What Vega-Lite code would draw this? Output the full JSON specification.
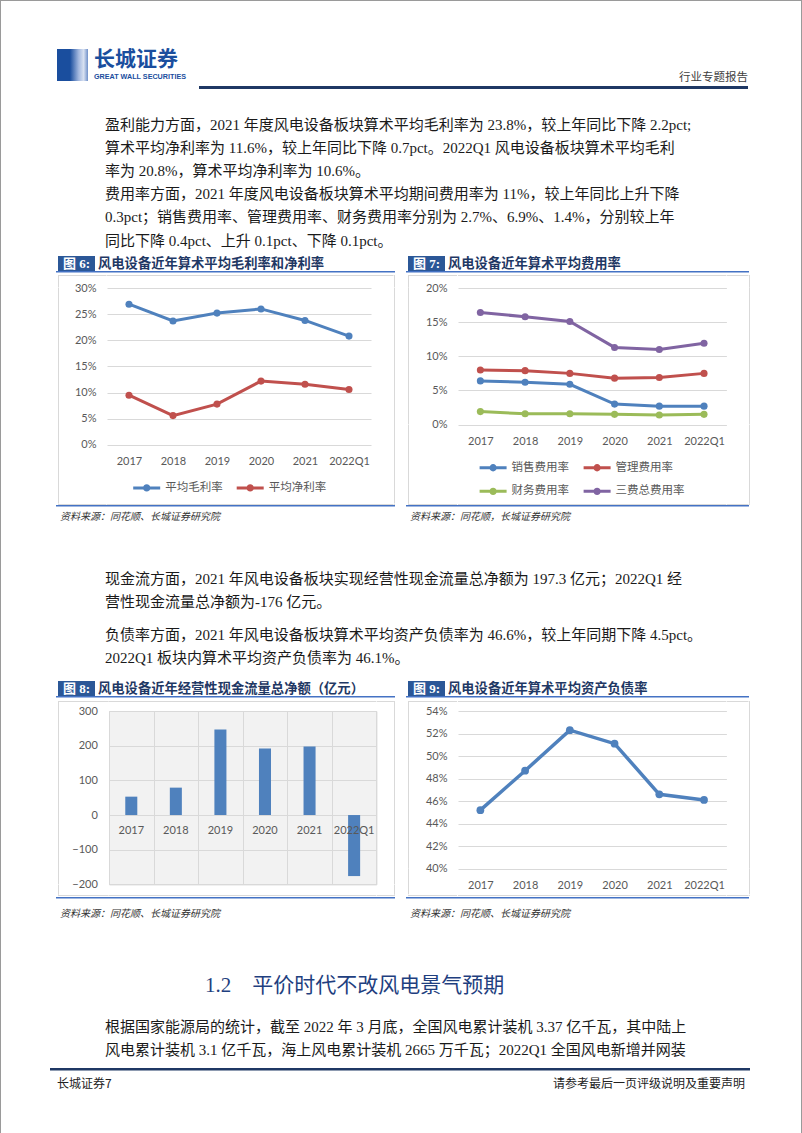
{
"$schema": "https://vega.github.io/schema/vega-lite/v6.json",
"padding": 0,
"background": "#ffffff",
"spacing": 0,
"bounds": "flush",
"config": {
  "view": {"stroke": null},
  "concat": {"spacing": 0},
  "axis": {"labelFont": "Lato", "labelFontSize": 11, "labelColor": "#595959", "domain": false, "ticks": false, "gridColor": "#D9D9D9", "gridWidth": 1, "labelPadding": 11, "labelOverlap": false},
  "legend": {"padding": 0, "labelFont": "Noto Sans CJK SC", "labelFontSize": 11.5, "labelColor": "#595959"}
},
"hconcat": [
  {"width": 1, "height": 1133, "data": {"values": []}, "mark": "point", "encoding": {}, "view": {"fill": "#9A9A9A"}},
  {"spacing": 0, "bounds": "flush", "vconcat": [
    {"width": 800, "height": 1, "data": {"values": []}, "mark": "point", "encoding": {}, "view": {"fill": "#9A9A9A"}},
    {"spacing": 0, "bounds": "flush", "hconcat": [
      {"width": 56, "height": 94, "data": {"values": []}, "mark": "point", "encoding": {}},
      {"spacing": 0, "bounds": "flush", "vconcat": [
        {"width": 31, "height": 48, "data": {"values": []}, "mark": "point", "encoding": {}},
        {"width": 31, "height": 32, "data": {"values": [{}]}, "mark": {"type": "rect", "fill": {"gradient": "linear", "x1": 0, "y1": 0, "x2": 1, "y2": 0, "stops": [{"offset": 0, "color": "#1A4E9E"}, {"offset": 0.42, "color": "#1A4E9E"}, {"offset": 0.7, "color": "#A3B8DF"}, {"offset": 0.86, "color": "#D8E1F1"}, {"offset": 1, "color": "#6F90C9"}]}}, "encoding": {}},
        {"width": 31, "height": 14, "data": {"values": []}, "mark": "point", "encoding": {}}
      ]},
      {"width": 37, "height": 94, "data": {"values": []}, "mark": "point", "encoding": {}},
      {"spacing": 0, "bounds": "flush", "vconcat": [
        {"width": 96, "height": 47, "data": {"values": []}, "mark": "point", "encoding": {}},
        {"width": 96, "height": 24, "data": {"values": [{"t": "长城证券"}]}, "mark": {"type": "text", "align": "left", "baseline": "middle", "font": "Noto Sans CJK SC", "fontWeight": "bold", "fontSize": 21, "color": "#1A4E9E"}, "encoding": {"text": {"field": "t"}, "x": {"datum": 0, "type": "quantitative", "scale": {"domain": [0, 1]}, "axis": null}}},
        {"width": 96, "height": 0.5, "data": {"values": []}, "mark": "point", "encoding": {}},
        {"width": 96, "height": 8, "data": {"values": [{"t": "GREAT WALL SECURITIES"}]}, "mark": {"type": "text", "align": "left", "baseline": "middle", "font": "Liberation Sans", "fontWeight": "bold", "fontSize": 7.2, "color": "#1A4E9E"}, "encoding": {"text": {"field": "t"}, "x": {"datum": 0, "type": "quantitative", "scale": {"domain": [0, 1]}, "axis": null}}},
        {"width": 96, "height": 14.5, "data": {"values": []}, "mark": "point", "encoding": {}}
      ]},
      {"width": 105, "height": 94, "data": {"values": []}, "mark": "point", "encoding": {}},
      {"spacing": 0, "bounds": "flush", "vconcat": [
        {"width": 549, "height": 70, "data": {"values": []}, "mark": "point", "encoding": {}},
        {"width": 549, "height": 14, "data": {"values": [{"t": "行业专题报告"}]}, "mark": {"type": "text", "align": "right", "baseline": "middle", "font": "Noto Sans CJK SC", "fontSize": 11.5, "color": "#404040"}, "encoding": {"text": {"field": "t"}, "x": {"datum": 1, "type": "quantitative", "scale": {"domain": [0, 1]}, "axis": null}}},
        {"width": 549, "height": 1, "data": {"values": []}, "mark": "point", "encoding": {}},
        {"width": 549, "height": 3, "data": {"values": []}, "mark": "point", "encoding": {}, "view": {"fill": "#1F3864"}},
        {"width": 549, "height": 6, "data": {"values": []}, "mark": "point", "encoding": {}}
      ]},
      {"width": 602, "height": 94, "data": {"values": []}, "mark": "point", "encoding": {}}
    ]},
    {"width": 800, "height": 110.4, "data": {"values": []}, "mark": "point", "encoding": {}},
    {"spacing": 0, "bounds": "flush", "hconcat": [
      {"width": 104, "height": 139.2, "data": {"values": []}, "mark": "point", "encoding": {}},
      {"width": 646, "height": 139.2, "data": {"values": [
        {"line": 1, "t": "盈利能力方面，2021 年度风电设备板块算术平均毛利率为 23.8%，较上年同比下降 2.2pct;"},
        {"line": 2, "t": "算术平均净利率为 11.6%，较上年同比下降 0.7pct。2022Q1 风电设备板块算术平均毛利"},
        {"line": 3, "t": "率为 20.8%，算术平均净利率为 10.6%。"},
        {"line": 4, "t": "费用率方面，2021 年度风电设备板块算术平均期间费用率为 11%，较上年同比上升下降"},
        {"line": 5, "t": "0.3pct；销售费用率、管理费用率、财务费用率分别为 2.7%、6.9%、1.4%，分别较上年"},
        {"line": 6, "t": "同比下降 0.4pct、上升 0.1pct、下降 0.1pct。"}
      ]}, "mark": {"type": "text", "align": "left", "baseline": "middle", "dy": 1, "font": "Liberation Serif, Noto Sans CJK SC", "fontSize": 15, "color": "#1A1A1A"}, "encoding": {"text": {"field": "t"}, "x": {"datum": 0, "type": "quantitative", "scale": {"domain": [0, 1]}, "axis": null}, "y": {"field": "line", "type": "ordinal", "axis": null, "scale": {"type": "point", "padding": 0.5}}}}
    ]},
    {"width": 800, "height": 139.2, "data": {"values": []}, "mark": "point", "encoding": {}},
    {"spacing": 0, "bounds": "flush", "resolve": {"scale": {"color": "independent"}, "legend": {"color": "independent"}}, "hconcat": [
      {"width": 55, "height": 277.4, "data": {"values": []}, "mark": "point", "encoding": {}},
      {"spacing": 0, "bounds": "flush", "resolve": {"scale": {"color": "independent"}, "legend": {"color": "independent"}}, "vconcat": [
        {"width": 339, "height": 3.4, "data": {"values": []}, "mark": "point", "encoding": {}},
        {"spacing": 0, "bounds": "flush", "hconcat": [
          {"width": 1.5, "height": 15, "data": {"values": []}, "mark": "point", "encoding": {}},
          {"width": 37, "height": 15, "view": {"fill": "#2B5797"}, "data": {"values": [{"t": "图 6:"}]}, "mark": {"type": "text", "align": "center", "baseline": "middle", "font": "Liberation Serif, Noto Sans CJK SC", "fontWeight": "bold", "fontSize": 13, "color": "#FFFFFF"}, "encoding": {"text": {"field": "t"}}},
          {"width": 2.5, "height": 15, "data": {"values": []}, "mark": "point", "encoding": {}},
          {"width": 298, "height": 15, "data": {"values": [{"t": "风电设备近年算术平均毛利率和净利率"}]}, "mark": {"type": "text", "align": "left", "baseline": "middle", "font": "Noto Sans CJK SC", "fontWeight": "bold", "fontSize": 13.3, "color": "#1F3864"}, "encoding": {"text": {"field": "t"}, "x": {"datum": 0, "type": "quantitative", "scale": {"domain": [0, 1]}, "axis": null}}}
        ]},
        {"width": 339, "height": 15, "data": {"values": []}, "mark": "point", "encoding": {}},
        {"width": 339, "height": 1.5, "data": {"values": []}, "mark": "point", "encoding": {}, "view": {"fill": "#4472C4"}},
        {"width": 339, "height": 1.5, "data": {"values": []}, "mark": "point", "encoding": {}},
        {"columns": 6, "spacing": 0, "bounds": "flush", "resolve": {"scale": {"color": "independent"}, "legend": {"color": "independent"}}, "concat": [
          {"width": 1.5, "height": 1, "data": {"values": []}, "mark": "point", "encoding": {}},
          {"width": 1, "height": 1, "data": {"values": []}, "mark": "point", "encoding": {}, "view": {"fill": "#D9D9D9"}},
          {"width": 47.5, "height": 1, "data": {"values": []}, "mark": "point", "encoding": {}, "view": {"fill": "#D9D9D9"}},
          {"width": 264, "height": 1, "data": {"values": []}, "mark": "point", "encoding": {}, "view": {"fill": "#D9D9D9"}},
          {"width": 22.5, "height": 1, "data": {"values": []}, "mark": "point", "encoding": {}, "view": {"fill": "#D9D9D9"}},
          {"width": 1, "height": 1, "data": {"values": []}, "mark": "point", "encoding": {}, "view": {"fill": "#D9D9D9"}},
          {"width": 1.5, "height": 11.5, "data": {"values": []}, "mark": "point", "encoding": {}},
          {"width": 1, "height": 11.5, "data": {"values": []}, "mark": "point", "encoding": {}, "view": {"fill": "#D9D9D9"}},
          {"width": 47.5, "height": 11.5, "data": {"values": []}, "mark": "point", "encoding": {}},
          {"width": 264, "height": 11.5, "data": {"values": []}, "mark": "point", "encoding": {}},
          {"width": 22.5, "height": 11.5, "data": {"values": []}, "mark": "point", "encoding": {}},
          {"width": 1, "height": 11.5, "data": {"values": []}, "mark": "point", "encoding": {}, "view": {"fill": "#D9D9D9"}},
          {"width": 1.5, "height": 156.9, "data": {"values": []}, "mark": "point", "encoding": {}},
          {"width": 1, "height": 156.9, "data": {"values": []}, "mark": "point", "encoding": {}, "view": {"fill": "#D9D9D9"}},
          {"width": 47.5, "height": 156.9, "data": {"values": []}, "mark": "point", "encoding": {}},
          {"width": 264, "height": 156.9,
           "data": {"values": [
             {"year": "2017", "series": "平均毛利率", "value": 26.9},
             {"year": "2018", "series": "平均毛利率", "value": 23.7},
             {"year": "2019", "series": "平均毛利率", "value": 25.2},
             {"year": "2020", "series": "平均毛利率", "value": 26.0},
             {"year": "2021", "series": "平均毛利率", "value": 23.8},
             {"year": "2022Q1", "series": "平均毛利率", "value": 20.8},
             {"year": "2017", "series": "平均净利率", "value": 9.5},
             {"year": "2018", "series": "平均净利率", "value": 5.6},
             {"year": "2019", "series": "平均净利率", "value": 7.8},
             {"year": "2020", "series": "平均净利率", "value": 12.2},
             {"year": "2021", "series": "平均净利率", "value": 11.6},
             {"year": "2022Q1", "series": "平均净利率", "value": 10.6}
           ]},
           "mark": {"type": "line", "strokeWidth": 3, "point": {"filled": true, "size": 50}},
           "encoding": {
             "x": {"field": "year", "type": "ordinal", "sort": null, "axis": {"title": null, "labelAngle": 0, "grid": false}},
             "y": {"field": "value", "type": "quantitative", "scale": {"domain": [0, 30], "nice": false}, "axis": {"title": null, "values": [0, 5, 10, 15, 20, 25, 30], "labelExpr": "datum.value + '%'", "grid": true}},
             "color": {"field": "series", "type": "nominal", "scale": {"domain": ["平均毛利率", "平均净利率"], "range": ["#4F81BD", "#C0504D"]}, "legend": {"title": null, "orient": "none", "legendX": 24.7, "legendY": 184.5, "direction": "horizontal", "columnPadding": 7.5, "symbolType": "M-1,0L1,0M0.16,0A0.16,0.16,0,1,1,-0.16,0A0.16,0.16,0,1,1,0.16,0", "symbolSize": 729, "symbolStrokeWidth": 3, "labelOffset": 3.5}}
           }},
          {"width": 22.5, "height": 156.9, "data": {"values": []}, "mark": "point", "encoding": {}},
          {"width": 1, "height": 156.9, "data": {"values": []}, "mark": "point", "encoding": {}, "view": {"fill": "#D9D9D9"}},
          {"width": 1.5, "height": 58.6, "data": {"values": []}, "mark": "point", "encoding": {}},
          {"width": 1, "height": 58.6, "data": {"values": []}, "mark": "point", "encoding": {}, "view": {"fill": "#D9D9D9"}},
          {"width": 47.5, "height": 58.6, "data": {"values": []}, "mark": "point", "encoding": {}},
          {"width": 264, "height": 58.6, "data": {"values": []}, "mark": "point", "encoding": {}},
          {"width": 22.5, "height": 58.6, "data": {"values": []}, "mark": "point", "encoding": {}},
          {"width": 1, "height": 58.6, "data": {"values": []}, "mark": "point", "encoding": {}, "view": {"fill": "#D9D9D9"}},
          {"width": 1.5, "height": 1, "data": {"values": []}, "mark": "point", "encoding": {}},
          {"width": 1, "height": 1, "data": {"values": []}, "mark": "point", "encoding": {}, "view": {"fill": "#D9D9D9"}},
          {"width": 47.5, "height": 1, "data": {"values": []}, "mark": "point", "encoding": {}, "view": {"fill": "#D9D9D9"}},
          {"width": 264, "height": 1, "data": {"values": []}, "mark": "point", "encoding": {}, "view": {"fill": "#D9D9D9"}},
          {"width": 22.5, "height": 1, "data": {"values": []}, "mark": "point", "encoding": {}, "view": {"fill": "#D9D9D9"}},
          {"width": 1, "height": 1, "data": {"values": []}, "mark": "point", "encoding": {}, "view": {"fill": "#D9D9D9"}}
        ]},
        {"width": 339, "height": 230, "data": {"values": []}, "mark": "point", "encoding": {}},
        {"width": 339, "height": 1.5, "data": {"values": []}, "mark": "point", "encoding": {}, "view": {"fill": "#4472C4"}},
        {"width": 339, "height": 2, "data": {"values": []}, "mark": "point", "encoding": {}},
        {"width": 339, "height": 15, "data": {"values": [{"t": "资料来源：同花顺、长城证券研究院"}]}, "mark": {"type": "text", "align": "left", "baseline": "middle", "dx": 4, "font": "Noto Sans CJK SC", "fontStyle": "italic", "fontSize": 10, "color": "#333333"}, "encoding": {"text": {"field": "t"}, "x": {"datum": 0, "type": "quantitative", "scale": {"domain": [0, 1]}, "axis": null}}},
        {"width": 339, "height": 7.5, "data": {"values": []}, "mark": "point", "encoding": {}}
      ]},
      {"width": 350, "height": 277.4, "data": {"values": []}, "mark": "point", "encoding": {}},
      {"spacing": 0, "bounds": "flush", "resolve": {"scale": {"color": "independent"}, "legend": {"color": "independent"}}, "vconcat": [
        {"width": 343, "height": 3.4, "data": {"values": []}, "mark": "point", "encoding": {}},
        {"spacing": 0, "bounds": "flush", "hconcat": [
          {"width": 1.5, "height": 15, "data": {"values": []}, "mark": "point", "encoding": {}},
          {"width": 37, "height": 15, "view": {"fill": "#2B5797"}, "data": {"values": [{"t": "图 7:"}]}, "mark": {"type": "text", "align": "center", "baseline": "middle", "font": "Liberation Serif, Noto Sans CJK SC", "fontWeight": "bold", "fontSize": 13, "color": "#FFFFFF"}, "encoding": {"text": {"field": "t"}}},
          {"width": 2.5, "height": 15, "data": {"values": []}, "mark": "point", "encoding": {}},
          {"width": 302, "height": 15, "data": {"values": [{"t": "风电设备近年算术平均费用率"}]}, "mark": {"type": "text", "align": "left", "baseline": "middle", "font": "Noto Sans CJK SC", "fontWeight": "bold", "fontSize": 13.3, "color": "#1F3864"}, "encoding": {"text": {"field": "t"}, "x": {"datum": 0, "type": "quantitative", "scale": {"domain": [0, 1]}, "axis": null}}}
        ]},
        {"width": 343, "height": 15, "data": {"values": []}, "mark": "point", "encoding": {}},
        {"width": 343, "height": 1.5, "data": {"values": []}, "mark": "point", "encoding": {}, "view": {"fill": "#4472C4"}},
        {"width": 343, "height": 1.5, "data": {"values": []}, "mark": "point", "encoding": {}},
        {"columns": 6, "spacing": 0, "bounds": "flush", "resolve": {"scale": {"color": "independent"}, "legend": {"color": "independent"}}, "concat": [
          {"width": 1.5, "height": 1, "data": {"values": []}, "mark": "point", "encoding": {}},
          {"width": 1, "height": 1, "data": {"values": []}, "mark": "point", "encoding": {}, "view": {"fill": "#D9D9D9"}},
          {"width": 48.1, "height": 1, "data": {"values": []}, "mark": "point", "encoding": {}, "view": {"fill": "#D9D9D9"}},
          {"width": 268.4, "height": 1, "data": {"values": []}, "mark": "point", "encoding": {}, "view": {"fill": "#D9D9D9"}},
          {"width": 21.5, "height": 1, "data": {"values": []}, "mark": "point", "encoding": {}, "view": {"fill": "#D9D9D9"}},
          {"width": 1, "height": 1, "data": {"values": []}, "mark": "point", "encoding": {}, "view": {"fill": "#D9D9D9"}},
          {"width": 1.5, "height": 11.7, "data": {"values": []}, "mark": "point", "encoding": {}},
          {"width": 1, "height": 11.7, "data": {"values": []}, "mark": "point", "encoding": {}, "view": {"fill": "#D9D9D9"}},
          {"width": 48.1, "height": 11.7, "data": {"values": []}, "mark": "point", "encoding": {}},
          {"width": 268.4, "height": 11.7, "data": {"values": []}, "mark": "point", "encoding": {}},
          {"width": 21.5, "height": 11.7, "data": {"values": []}, "mark": "point", "encoding": {}},
          {"width": 1, "height": 11.7, "data": {"values": []}, "mark": "point", "encoding": {}, "view": {"fill": "#D9D9D9"}},
          {"width": 1.5, "height": 136.6, "data": {"values": []}, "mark": "point", "encoding": {}},
          {"width": 1, "height": 136.6, "data": {"values": []}, "mark": "point", "encoding": {}, "view": {"fill": "#D9D9D9"}},
          {"width": 48.1, "height": 136.6, "data": {"values": []}, "mark": "point", "encoding": {}},
          {"width": 268.4, "height": 136.6,
           "data": {"values": [
             {"year": "2017", "series": "销售费用率", "value": 6.4},
             {"year": "2018", "series": "销售费用率", "value": 6.2},
             {"year": "2019", "series": "销售费用率", "value": 5.9},
             {"year": "2020", "series": "销售费用率", "value": 3.0},
             {"year": "2021", "series": "销售费用率", "value": 2.7},
             {"year": "2022Q1", "series": "销售费用率", "value": 2.7},
             {"year": "2017", "series": "管理费用率", "value": 8.0},
             {"year": "2018", "series": "管理费用率", "value": 7.9},
             {"year": "2019", "series": "管理费用率", "value": 7.5},
             {"year": "2020", "series": "管理费用率", "value": 6.8},
             {"year": "2021", "series": "管理费用率", "value": 6.9},
             {"year": "2022Q1", "series": "管理费用率", "value": 7.5},
             {"year": "2017", "series": "财务费用率", "value": 1.9},
             {"year": "2018", "series": "财务费用率", "value": 1.6},
             {"year": "2019", "series": "财务费用率", "value": 1.6},
             {"year": "2020", "series": "财务费用率", "value": 1.5},
             {"year": "2021", "series": "财务费用率", "value": 1.4},
             {"year": "2022Q1", "series": "财务费用率", "value": 1.5},
             {"year": "2017", "series": "三费总费用率", "value": 16.4},
             {"year": "2018", "series": "三费总费用率", "value": 15.8},
             {"year": "2019", "series": "三费总费用率", "value": 15.1},
             {"year": "2020", "series": "三费总费用率", "value": 11.3},
             {"year": "2021", "series": "三费总费用率", "value": 11.0},
             {"year": "2022Q1", "series": "三费总费用率", "value": 11.9}
           ]},
           "mark": {"type": "line", "strokeWidth": 3, "point": {"filled": true, "size": 50}},
           "encoding": {
             "x": {"field": "year", "type": "ordinal", "sort": null, "axis": {"title": null, "labelAngle": 0, "grid": false}},
             "y": {"field": "value", "type": "quantitative", "scale": {"domain": [0, 20], "nice": false}, "axis": {"title": null, "values": [0, 5, 10, 15, 20], "labelExpr": "datum.value + '%'", "grid": true}},
             "color": {"field": "series", "type": "nominal", "scale": {"domain": ["销售费用率", "管理费用率", "财务费用率", "三费总费用率"], "range": ["#4F81BD", "#C0504D", "#9BBB59", "#8064A2"]}, "legend": {"title": null, "orient": "none", "legendX": 20.1, "legendY": 164.3, "direction": "horizontal", "columns": 2, "columnPadding": 8, "rowPadding": -7.7, "symbolType": "M-1,0L1,0M0.16,0A0.16,0.16,0,1,1,-0.16,0A0.16,0.16,0,1,1,0.16,0", "symbolSize": 729, "symbolStrokeWidth": 3, "labelOffset": 3.5}}
           }},
          {"width": 21.5, "height": 136.6, "data": {"values": []}, "mark": "point", "encoding": {}},
          {"width": 1, "height": 136.6, "data": {"values": []}, "mark": "point", "encoding": {}, "view": {"fill": "#D9D9D9"}},
          {"width": 1.5, "height": 78.7, "data": {"values": []}, "mark": "point", "encoding": {}},
          {"width": 1, "height": 78.7, "data": {"values": []}, "mark": "point", "encoding": {}, "view": {"fill": "#D9D9D9"}},
          {"width": 48.1, "height": 78.7, "data": {"values": []}, "mark": "point", "encoding": {}},
          {"width": 268.4, "height": 78.7, "data": {"values": []}, "mark": "point", "encoding": {}},
          {"width": 21.5, "height": 78.7, "data": {"values": []}, "mark": "point", "encoding": {}},
          {"width": 1, "height": 78.7, "data": {"values": []}, "mark": "point", "encoding": {}, "view": {"fill": "#D9D9D9"}},
          {"width": 1.5, "height": 1, "data": {"values": []}, "mark": "point", "encoding": {}},
          {"width": 1, "height": 1, "data": {"values": []}, "mark": "point", "encoding": {}, "view": {"fill": "#D9D9D9"}},
          {"width": 48.1, "height": 1, "data": {"values": []}, "mark": "point", "encoding": {}, "view": {"fill": "#D9D9D9"}},
          {"width": 268.4, "height": 1, "data": {"values": []}, "mark": "point", "encoding": {}, "view": {"fill": "#D9D9D9"}},
          {"width": 21.5, "height": 1, "data": {"values": []}, "mark": "point", "encoding": {}, "view": {"fill": "#D9D9D9"}},
          {"width": 1, "height": 1, "data": {"values": []}, "mark": "point", "encoding": {}, "view": {"fill": "#D9D9D9"}}
        ]},
        {"width": 343, "height": 230, "data": {"values": []}, "mark": "point", "encoding": {}},
        {"width": 343, "height": 1.5, "data": {"values": []}, "mark": "point", "encoding": {}, "view": {"fill": "#4472C4"}},
        {"width": 343, "height": 2, "data": {"values": []}, "mark": "point", "encoding": {}},
        {"width": 343, "height": 15, "data": {"values": [{"t": "资料来源：同花顺，长城证券研究院"}]}, "mark": {"type": "text", "align": "left", "baseline": "middle", "dx": 4, "font": "Noto Sans CJK SC", "fontStyle": "italic", "fontSize": 10, "color": "#333333"}, "encoding": {"text": {"field": "t"}, "x": {"datum": 0, "type": "quantitative", "scale": {"domain": [0, 1]}, "axis": null}}},
        {"width": 343, "height": 7.5, "data": {"values": []}, "mark": "point", "encoding": {}}
      ]},
      {"width": 395, "height": 277.4, "data": {"values": []}, "mark": "point", "encoding": {}}
    ]},
    {"width": 800, "height": 313.9, "data": {"values": []}, "mark": "point", "encoding": {}},
    {"spacing": 0, "bounds": "flush", "hconcat": [
      {"width": 104, "height": 46, "data": {"values": []}, "mark": "point", "encoding": {}},
      {"width": 646, "height": 46, "data": {"values": [
        {"line": 1, "t": "现金流方面，2021 年风电设备板块实现经营性现金流量总净额为 197.3 亿元；2022Q1 经"},
        {"line": 2, "t": "营性现金流量总净额为-176 亿元。"}
      ]}, "mark": {"type": "text", "align": "left", "baseline": "middle", "dy": 1, "font": "Liberation Serif, Noto Sans CJK SC", "fontSize": 15, "color": "#1A1A1A"}, "encoding": {"text": {"field": "t"}, "x": {"datum": 0, "type": "quantitative", "scale": {"domain": [0, 1]}, "axis": null}, "y": {"field": "line", "type": "ordinal", "axis": null, "scale": {"type": "point", "padding": 0.5}}}}
    ]},
    {"width": 800, "height": 55.5, "data": {"values": []}, "mark": "point", "encoding": {}},
    {"spacing": 0, "bounds": "flush", "hconcat": [
      {"width": 104, "height": 46, "data": {"values": []}, "mark": "point", "encoding": {}},
      {"width": 646, "height": 46, "data": {"values": [
        {"line": 1, "t": "负债率方面，2021 年风电设备板块算术平均资产负债率为 46.6%，较上年同期下降 4.5pct。"},
        {"line": 2, "t": "2022Q1 板块内算术平均资产负债率为 46.1%。"}
      ]}, "mark": {"type": "text", "align": "left", "baseline": "middle", "dy": 1, "font": "Liberation Serif, Noto Sans CJK SC", "fontSize": 15, "color": "#1A1A1A"}, "encoding": {"text": {"field": "t"}, "x": {"datum": 0, "type": "quantitative", "scale": {"domain": [0, 1]}, "axis": null}, "y": {"field": "line", "type": "ordinal", "axis": null, "scale": {"type": "point", "padding": 0.5}}}}
    ]},
    {"width": 800, "height": 46, "data": {"values": []}, "mark": "point", "encoding": {}},
    {"spacing": 0, "bounds": "flush", "hconcat": [
      {"width": 55, "height": 257, "data": {"values": []}, "mark": "point", "encoding": {}},
      {"spacing": 0, "bounds": "flush", "vconcat": [
        {"width": 339, "height": 13, "data": {"values": []}, "mark": "point", "encoding": {}},
        {"spacing": 0, "bounds": "flush", "hconcat": [
          {"width": 1.5, "height": 15, "data": {"values": []}, "mark": "point", "encoding": {}},
          {"width": 37, "height": 15, "view": {"fill": "#2B5797"}, "data": {"values": [{"t": "图 8:"}]}, "mark": {"type": "text", "align": "center", "baseline": "middle", "font": "Liberation Serif, Noto Sans CJK SC", "fontWeight": "bold", "fontSize": 13, "color": "#FFFFFF"}, "encoding": {"text": {"field": "t"}}},
          {"width": 2.5, "height": 15, "data": {"values": []}, "mark": "point", "encoding": {}},
          {"width": 298, "height": 15, "data": {"values": [{"t": "风电设备近年经营性现金流量总净额（亿元）"}]}, "mark": {"type": "text", "align": "left", "baseline": "middle", "font": "Noto Sans CJK SC", "fontWeight": "bold", "fontSize": 13.3, "color": "#1F3864"}, "encoding": {"text": {"field": "t"}, "x": {"datum": 0, "type": "quantitative", "scale": {"domain": [0, 1]}, "axis": null}}}
        ]},
        {"width": 339, "height": 15, "data": {"values": []}, "mark": "point", "encoding": {}},
        {"width": 339, "height": 1.5, "data": {"values": []}, "mark": "point", "encoding": {}, "view": {"fill": "#4472C4"}},
        {"width": 339, "height": 2.5, "data": {"values": []}, "mark": "point", "encoding": {}},
        {"columns": 6, "spacing": 0, "bounds": "flush", "concat": [
          {"width": 1.5, "height": 1, "data": {"values": []}, "mark": "point", "encoding": {}},
          {"width": 1, "height": 1, "data": {"values": []}, "mark": "point", "encoding": {}, "view": {"fill": "#D9D9D9"}},
          {"width": 49.7, "height": 1, "data": {"values": []}, "mark": "point", "encoding": {}, "view": {"fill": "#D9D9D9"}},
          {"width": 267.4, "height": 1, "data": {"values": []}, "mark": "point", "encoding": {}, "view": {"fill": "#D9D9D9"}},
          {"width": 16.9, "height": 1, "data": {"values": []}, "mark": "point", "encoding": {}, "view": {"fill": "#D9D9D9"}},
          {"width": 1, "height": 1, "data": {"values": []}, "mark": "point", "encoding": {}, "view": {"fill": "#D9D9D9"}},
          {"width": 1.5, "height": 8.9, "data": {"values": []}, "mark": "point", "encoding": {}},
          {"width": 1, "height": 8.9, "data": {"values": []}, "mark": "point", "encoding": {}, "view": {"fill": "#D9D9D9"}},
          {"width": 49.7, "height": 8.9, "data": {"values": []}, "mark": "point", "encoding": {}},
          {"width": 267.4, "height": 8.9, "data": {"values": []}, "mark": "point", "encoding": {}},
          {"width": 16.9, "height": 8.9, "data": {"values": []}, "mark": "point", "encoding": {}},
          {"width": 1, "height": 8.9, "data": {"values": []}, "mark": "point", "encoding": {}, "view": {"fill": "#D9D9D9"}},
          {"width": 1.5, "height": 173.4, "data": {"values": []}, "mark": "point", "encoding": {}},
          {"width": 1, "height": 173.4, "data": {"values": []}, "mark": "point", "encoding": {}, "view": {"fill": "#D9D9D9"}},
          {"width": 49.7, "height": 173.4, "data": {"values": []}, "mark": "point", "encoding": {}},
          {"width": 267.4, "height": 173.4,
           "view": {"fill": "#F2F2F2", "stroke": "#D9D9D9"},
           "data": {"values": [
             {"year": "2017", "value": 53},
             {"year": "2018", "value": 79},
             {"year": "2019", "value": 247},
             {"year": "2020", "value": 192},
             {"year": "2021", "value": 197.3},
             {"year": "2022Q1", "value": -176}
           ]},
           "encoding": {"x": {"field": "year", "type": "ordinal", "sort": null, "scale": {"paddingInner": 0, "paddingOuter": 0}, "axis": {"title": null, "labels": false, "grid": true, "tickBand": "extent"}}},
           "layer": [
             {"mark": {"type": "bar", "color": "#4F81BD", "width": {"band": 0.27}},
              "encoding": {"y": {"field": "value", "type": "quantitative", "scale": {"domain": [-200, 300], "nice": false}, "axis": {"title": null, "values": [-200, -100, 0, 100, 200, 300], "grid": true, "labelPadding": 11.7, "labelOverlap": false}}}},
             {"mark": {"type": "text", "dy": 15.6, "font": "Lato", "fontSize": 11, "color": "#595959"},
              "encoding": {"y": {"datum": 0, "axis": {"title": null, "values": [-200, -100, 0, 100, 200, 300], "grid": true, "labelPadding": 11.7, "labelOverlap": false}}, "text": {"field": "year"}}}
           ]},
          {"width": 16.9, "height": 173.4, "data": {"values": []}, "mark": "point", "encoding": {}},
          {"width": 1, "height": 173.4, "data": {"values": []}, "mark": "point", "encoding": {}, "view": {"fill": "#D9D9D9"}},
          {"width": 1.5, "height": 9.7, "data": {"values": []}, "mark": "point", "encoding": {}},
          {"width": 1, "height": 9.7, "data": {"values": []}, "mark": "point", "encoding": {}, "view": {"fill": "#D9D9D9"}},
          {"width": 49.7, "height": 9.7, "data": {"values": []}, "mark": "point", "encoding": {}},
          {"width": 267.4, "height": 9.7, "data": {"values": []}, "mark": "point", "encoding": {}},
          {"width": 16.9, "height": 9.7, "data": {"values": []}, "mark": "point", "encoding": {}},
          {"width": 1, "height": 9.7, "data": {"values": []}, "mark": "point", "encoding": {}, "view": {"fill": "#D9D9D9"}},
          {"width": 1.5, "height": 1, "data": {"values": []}, "mark": "point", "encoding": {}},
          {"width": 1, "height": 1, "data": {"values": []}, "mark": "point", "encoding": {}, "view": {"fill": "#D9D9D9"}},
          {"width": 49.7, "height": 1, "data": {"values": []}, "mark": "point", "encoding": {}, "view": {"fill": "#D9D9D9"}},
          {"width": 267.4, "height": 1, "data": {"values": []}, "mark": "point", "encoding": {}, "view": {"fill": "#D9D9D9"}},
          {"width": 16.9, "height": 1, "data": {"values": []}, "mark": "point", "encoding": {}, "view": {"fill": "#D9D9D9"}},
          {"width": 1, "height": 1, "data": {"values": []}, "mark": "point", "encoding": {}, "view": {"fill": "#D9D9D9"}}
        ]},
        {"width": 339, "height": 195.5, "data": {"values": []}, "mark": "point", "encoding": {}},
        {"width": 339, "height": 1.5, "data": {"values": []}, "mark": "point", "encoding": {}, "view": {"fill": "#4472C4"}},
        {"width": 339, "height": 7, "data": {"values": []}, "mark": "point", "encoding": {}},
        {"width": 339, "height": 15, "data": {"values": [{"t": "资料来源：同花顺、长城证券研究院"}]}, "mark": {"type": "text", "align": "left", "baseline": "middle", "dx": 4, "font": "Noto Sans CJK SC", "fontStyle": "italic", "fontSize": 10, "color": "#333333"}, "encoding": {"text": {"field": "t"}, "x": {"datum": 0, "type": "quantitative", "scale": {"domain": [0, 1]}, "axis": null}}},
        {"width": 339, "height": 6, "data": {"values": []}, "mark": "point", "encoding": {}}
      ]},
      {"width": 350, "height": 257, "data": {"values": []}, "mark": "point", "encoding": {}},
      {"spacing": 0, "bounds": "flush", "vconcat": [
        {"width": 343, "height": 13, "data": {"values": []}, "mark": "point", "encoding": {}},
        {"spacing": 0, "bounds": "flush", "hconcat": [
          {"width": 1.5, "height": 15, "data": {"values": []}, "mark": "point", "encoding": {}},
          {"width": 37, "height": 15, "view": {"fill": "#2B5797"}, "data": {"values": [{"t": "图 9:"}]}, "mark": {"type": "text", "align": "center", "baseline": "middle", "font": "Liberation Serif, Noto Sans CJK SC", "fontWeight": "bold", "fontSize": 13, "color": "#FFFFFF"}, "encoding": {"text": {"field": "t"}}},
          {"width": 2.5, "height": 15, "data": {"values": []}, "mark": "point", "encoding": {}},
          {"width": 302, "height": 15, "data": {"values": [{"t": "风电设备近年算术平均资产负债率"}]}, "mark": {"type": "text", "align": "left", "baseline": "middle", "font": "Noto Sans CJK SC", "fontWeight": "bold", "fontSize": 13.3, "color": "#1F3864"}, "encoding": {"text": {"field": "t"}, "x": {"datum": 0, "type": "quantitative", "scale": {"domain": [0, 1]}, "axis": null}}}
        ]},
        {"width": 343, "height": 15, "data": {"values": []}, "mark": "point", "encoding": {}},
        {"width": 343, "height": 1.5, "data": {"values": []}, "mark": "point", "encoding": {}, "view": {"fill": "#4472C4"}},
        {"width": 343, "height": 2.5, "data": {"values": []}, "mark": "point", "encoding": {}},
        {"columns": 6, "spacing": 0, "bounds": "flush", "concat": [
          {"width": 1.5, "height": 1, "data": {"values": []}, "mark": "point", "encoding": {}},
          {"width": 1, "height": 1, "data": {"values": []}, "mark": "point", "encoding": {}, "view": {"fill": "#D9D9D9"}},
          {"width": 48.1, "height": 1, "data": {"values": []}, "mark": "point", "encoding": {}, "view": {"fill": "#D9D9D9"}},
          {"width": 268.4, "height": 1, "data": {"values": []}, "mark": "point", "encoding": {}, "view": {"fill": "#D9D9D9"}},
          {"width": 21.5, "height": 1, "data": {"values": []}, "mark": "point", "encoding": {}, "view": {"fill": "#D9D9D9"}},
          {"width": 1, "height": 1, "data": {"values": []}, "mark": "point", "encoding": {}, "view": {"fill": "#D9D9D9"}},
          {"width": 1.5, "height": 9, "data": {"values": []}, "mark": "point", "encoding": {}},
          {"width": 1, "height": 9, "data": {"values": []}, "mark": "point", "encoding": {}, "view": {"fill": "#D9D9D9"}},
          {"width": 48.1, "height": 9, "data": {"values": []}, "mark": "point", "encoding": {}},
          {"width": 268.4, "height": 9, "data": {"values": []}, "mark": "point", "encoding": {}},
          {"width": 21.5, "height": 9, "data": {"values": []}, "mark": "point", "encoding": {}},
          {"width": 1, "height": 9, "data": {"values": []}, "mark": "point", "encoding": {}, "view": {"fill": "#D9D9D9"}},
          {"width": 1.5, "height": 157.7, "data": {"values": []}, "mark": "point", "encoding": {}},
          {"width": 1, "height": 157.7, "data": {"values": []}, "mark": "point", "encoding": {}, "view": {"fill": "#D9D9D9"}},
          {"width": 48.1, "height": 157.7, "data": {"values": []}, "mark": "point", "encoding": {}},
          {"width": 268.4, "height": 157.7,
           "data": {"values": [
             {"year": "2017", "value": 45.2},
             {"year": "2018", "value": 48.7},
             {"year": "2019", "value": 52.3},
             {"year": "2020", "value": 51.1},
             {"year": "2021", "value": 46.6},
             {"year": "2022Q1", "value": 46.1}
           ]},
           "mark": {"type": "line", "color": "#4F81BD", "strokeWidth": 3.5, "point": {"filled": true, "size": 60, "color": "#4F81BD"}},
           "encoding": {
             "x": {"field": "year", "type": "ordinal", "sort": null, "axis": {"title": null, "labelAngle": 0, "grid": false}},
             "y": {"field": "value", "type": "quantitative", "scale": {"domain": [40, 54], "nice": false, "zero": false}, "axis": {"title": null, "values": [40, 42, 44, 46, 48, 50, 52, 54], "labelExpr": "datum.value + '%'", "grid": true}}
           }},
          {"width": 21.5, "height": 157.7, "data": {"values": []}, "mark": "point", "encoding": {}},
          {"width": 1, "height": 157.7, "data": {"values": []}, "mark": "point", "encoding": {}, "view": {"fill": "#D9D9D9"}},
          {"width": 1.5, "height": 25.3, "data": {"values": []}, "mark": "point", "encoding": {}},
          {"width": 1, "height": 25.3, "data": {"values": []}, "mark": "point", "encoding": {}, "view": {"fill": "#D9D9D9"}},
          {"width": 48.1, "height": 25.3, "data": {"values": []}, "mark": "point", "encoding": {}},
          {"width": 268.4, "height": 25.3, "data": {"values": []}, "mark": "point", "encoding": {}},
          {"width": 21.5, "height": 25.3, "data": {"values": []}, "mark": "point", "encoding": {}},
          {"width": 1, "height": 25.3, "data": {"values": []}, "mark": "point", "encoding": {}, "view": {"fill": "#D9D9D9"}},
          {"width": 1.5, "height": 1, "data": {"values": []}, "mark": "point", "encoding": {}},
          {"width": 1, "height": 1, "data": {"values": []}, "mark": "point", "encoding": {}, "view": {"fill": "#D9D9D9"}},
          {"width": 48.1, "height": 1, "data": {"values": []}, "mark": "point", "encoding": {}, "view": {"fill": "#D9D9D9"}},
          {"width": 268.4, "height": 1, "data": {"values": []}, "mark": "point", "encoding": {}, "view": {"fill": "#D9D9D9"}},
          {"width": 21.5, "height": 1, "data": {"values": []}, "mark": "point", "encoding": {}, "view": {"fill": "#D9D9D9"}},
          {"width": 1, "height": 1, "data": {"values": []}, "mark": "point", "encoding": {}, "view": {"fill": "#D9D9D9"}}
        ]},
        {"width": 343, "height": 195.5, "data": {"values": []}, "mark": "point", "encoding": {}},
        {"width": 343, "height": 1.5, "data": {"values": []}, "mark": "point", "encoding": {}, "view": {"fill": "#4472C4"}},
        {"width": 343, "height": 7, "data": {"values": []}, "mark": "point", "encoding": {}},
        {"width": 343, "height": 15, "data": {"values": [{"t": "资料来源：同花顺、长城证券研究院"}]}, "mark": {"type": "text", "align": "left", "baseline": "middle", "dx": 4, "font": "Noto Sans CJK SC", "fontStyle": "italic", "fontSize": 10, "color": "#333333"}, "encoding": {"text": {"field": "t"}, "x": {"datum": 0, "type": "quantitative", "scale": {"domain": [0, 1]}, "axis": null}}},
        {"width": 343, "height": 6, "data": {"values": []}, "mark": "point", "encoding": {}}
      ]},
      {"width": 395, "height": 257, "data": {"values": []}, "mark": "point", "encoding": {}}
    ]},
    {"width": 800, "height": 306, "data": {"values": []}, "mark": "point", "encoding": {}},
    {"spacing": 0, "bounds": "flush", "hconcat": [
      {"width": 204, "height": 22, "data": {"values": []}, "mark": "point", "encoding": {}},
      {"width": 596, "height": 22, "data": {"values": [{"t": "1.2\u00a0\u00a0\u00a0\u00a0平价时代不改风电景气预期"}]}, "mark": {"type": "text", "align": "left", "baseline": "middle", "dy": 1, "font": "Liberation Serif, Noto Sans CJK SC", "fontSize": 21, "color": "#1F3F7F"}, "encoding": {"text": {"field": "t"}, "x": {"datum": 0, "type": "quantitative", "scale": {"domain": [0, 1]}, "axis": null}}}
    ]},
    {"width": 800, "height": 39.5, "data": {"values": []}, "mark": "point", "encoding": {}},
    {"spacing": 0, "bounds": "flush", "hconcat": [
      {"width": 104, "height": 46, "data": {"values": []}, "mark": "point", "encoding": {}},
      {"width": 646, "height": 46, "data": {"values": [
        {"line": 1, "t": "根据国家能源局的统计，截至 2022 年 3 月底，全国风电累计装机 3.37 亿千瓦，其中陆上"},
        {"line": 2, "t": "风电累计装机 3.1 亿千瓦，海上风电累计装机 2665 万千瓦；2022Q1 全国风电新增并网装"}
      ]}, "mark": {"type": "text", "align": "left", "baseline": "middle", "dy": 1, "font": "Liberation Serif, Noto Sans CJK SC", "fontSize": 15, "color": "#1A1A1A"}, "encoding": {"text": {"field": "t"}, "x": {"datum": 0, "type": "quantitative", "scale": {"domain": [0, 1]}, "axis": null}, "y": {"field": "line", "type": "ordinal", "axis": null, "scale": {"type": "point", "padding": 0.5}}}}
    ]},
    {"width": 800, "height": 53.5, "data": {"values": []}, "mark": "point", "encoding": {}},
    {"spacing": 0, "bounds": "flush", "hconcat": [
      {"width": 49, "height": 2.5, "data": {"values": []}, "mark": "point", "encoding": {}},
      {"width": 700, "height": 2.5, "data": {"values": []}, "mark": "point", "encoding": {}, "view": {"fill": "#1F3864"}},
      {"width": 51, "height": 2.5, "data": {"values": []}, "mark": "point", "encoding": {}}
    ]},
    {"width": 800, "height": 8, "data": {"values": []}, "mark": "point", "encoding": {}},
    {"spacing": 0, "bounds": "flush", "hconcat": [
      {"width": 56, "height": 16, "data": {"values": []}, "mark": "point", "encoding": {}},
      {"width": 200, "height": 16, "data": {"values": [{"t": "长城证券7"}]}, "mark": {"type": "text", "align": "left", "baseline": "middle", "font": "Noto Sans CJK SC", "fontSize": 12, "color": "#222222"}, "encoding": {"text": {"field": "t"}, "x": {"datum": 0, "type": "quantitative", "scale": {"domain": [0, 1]}, "axis": null}}},
      {"width": 288, "height": 16, "data": {"values": []}, "mark": "point", "encoding": {}},
      {"width": 200, "height": 16, "data": {"values": [{"t": "请参考最后一页评级说明及重要声明"}]}, "mark": {"type": "text", "align": "right", "baseline": "middle", "font": "Noto Sans CJK SC", "fontSize": 12, "color": "#222222"}, "encoding": {"text": {"field": "t"}, "x": {"datum": 1, "type": "quantitative", "scale": {"domain": [0, 1]}, "axis": null}}},
      {"width": 56, "height": 16, "data": {"values": []}, "mark": "point", "encoding": {}}
    ]},
    {"width": 800, "height": 59, "data": {"values": []}, "mark": "point", "encoding": {}},
    {"width": 800, "height": 1, "data": {"values": []}, "mark": "point", "encoding": {}, "view": {"fill": "#9A9A9A"}}
  ]},
  {"width": 800, "height": 1133, "data": {"values": []}, "mark": "point", "encoding": {}},
  {"width": 1, "height": 1133, "data": {"values": []}, "mark": "point", "encoding": {}, "view": {"fill": "#9A9A9A"}}
]
}
